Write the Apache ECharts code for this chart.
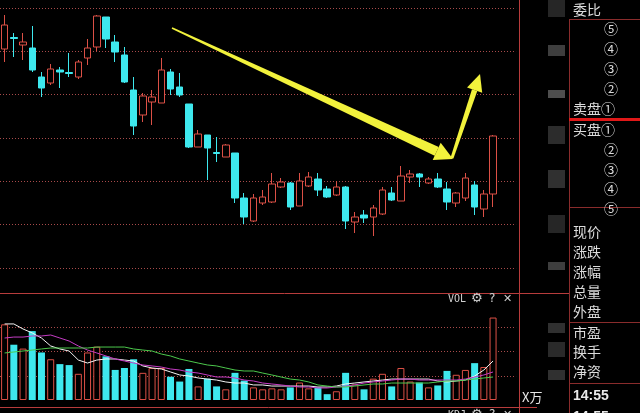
<!DOCTYPE html>
<html><head><meta charset="utf-8">
<script src="https://cdn.jsdelivr.net/npm/echarts@6/dist/echarts.min.js"></script>
<style>html,body{margin:0;padding:0;background:#000;}#c{width:640px;height:413px;}</style>
</head><body><div id="c"></div><script>
const categories = ['1','2','3','4','5','6','7','8','9','10','11','12','13','14','15','16','17','18','19','20','21','22','23','24','25','26','27','28','29','30','31','32','33','34','35','36','37','38','39','40','41','42','43','44','45','46','47','48','49','50','51','52','53','54','55','56'];
const opens = [9.114,9.183,9.138,9.120,8.946,8.910,8.988,8.973,8.946,9.060,
  9.126,9.306,9.156,9.078,8.868,8.718,8.796,8.790,8.976,8.886,
  8.784,8.526,8.598,8.493,8.466,8.490,8.220,8.082,8.190,8.196,
  8.286,8.310,8.172,8.292,8.334,8.274,8.238,8.286,8.076,8.118,
  8.106,8.124,8.250,8.202,8.346,8.364,8.310,8.334,8.274,8.190,
  8.220,8.298,8.154,8.244];
const closes = [9.258,9.177,9.156,8.988,8.880,8.994,8.976,8.967,9.036,9.120,
  9.312,9.174,9.096,8.916,8.652,8.832,8.826,8.988,8.874,8.838,
  8.526,8.604,8.520,8.487,8.538,8.220,8.106,8.220,8.226,8.304,
  8.316,8.166,8.322,8.346,8.268,8.226,8.286,8.082,8.106,8.100,
  8.160,8.268,8.208,8.352,8.364,8.346,8.334,8.286,8.196,8.250,
  8.340,8.166,8.244,8.592];
const lows = [9.036,9.066,9.048,8.976,8.826,8.898,8.880,8.946,8.934,9.018,
  9.102,9.120,9.036,8.910,8.598,8.676,8.658,8.790,8.838,8.826,
  8.520,8.526,8.328,8.436,8.466,8.190,8.064,8.076,8.178,8.190,
  8.280,8.148,8.172,8.286,8.232,8.220,8.232,8.034,8.010,8.070,
  7.992,8.118,8.202,8.202,8.310,8.286,8.304,8.280,8.148,8.166,
  8.202,8.118,8.106,8.166];
const highs = [9.318,9.210,9.210,9.252,8.976,9.024,9.006,9.090,9.048,9.174,
  9.318,9.306,9.198,9.126,8.946,8.850,8.868,9.060,8.994,8.970,
  8.784,8.628,8.598,8.586,8.544,8.490,8.250,8.244,8.268,8.370,
  8.340,8.316,8.370,8.376,8.370,8.292,8.322,8.292,8.136,8.148,
  8.178,8.286,8.286,8.412,8.388,8.370,8.346,8.370,8.316,8.256,
  8.370,8.322,8.268,8.598];
const volumes = [78,57,53,71,49,42,37,36,27,49,
  55,45,31,33,42,28,33,33,24,19,
  32,14,22,14,11,28,20,13,11,12,
  11,13,18,12,13,6,9,28,16,11,
  22,27,14,33,19,18,13,15,30,26,
  31,38,34,85];
const ma5 = [78.4,78.4,73.2,69.1,63.9,55.7,52.6,50.5,41.2,38.1,
  41.2,42.3,42.3,41.2,40.2,35.1,33.0,32.0,28.9,25.8,
  24.7,22.7,21.6,20.6,18.6,17.5,17.5,15.5,15.5,14.4,
  14.4,14.4,14.4,14.4,13.4,13.4,14.4,16.5,17.5,18.6,
  19.6,20.6,21.6,21.6,21.6,21.6,21.6,19.6,18.6,19.6,
  20.6,24.7,30.9,40.2];
const ma10 = [63.9,64.9,64.9,66.0,66.0,67.0,63.9,60.8,55.7,51.5,
  48.5,45.4,42.3,40.2,38.1,36.1,35.1,34.0,32.0,30.9,
  28.9,27.8,25.8,23.7,23.7,22.7,20.6,19.6,17.5,16.5,
  15.5,14.4,13.4,13.4,12.4,12.4,13.4,14.4,15.5,17.5,
  18.6,19.6,20.6,21.6,21.6,20.6,20.6,20.6,20.6,20.6,
  21.6,23.7,25.8,28.9];
const ma20 = [48.5,49.5,50.5,51.5,52.6,53.6,53.6,53.6,53.6,53.6,
  54.6,54.6,54.6,54.6,52.6,51.5,50.5,47.4,45.4,42.3,
  40.2,38.1,36.1,35.1,33.0,30.9,29.9,29.9,27.8,25.8,
  23.7,21.6,20.6,18.6,15.5,14.4,13.4,13.4,14.4,15.5,
  16.5,16.5,17.5,17.5,17.5,17.5,17.5,18.6,19.6,19.6,
  20.6,21.6,22.7,23.7];
const panelLabels = [
  ['委比',573,10],['⑤',604,29],['④',604,49],['③',604,69],['②',604,89],
  ['卖盘①',573,109],['买盘①',573,130],['②',604,150],['③',604,170],['④',604,189],['⑤',604,209],
  ['现价',573,232],['涨跌',573,252],['涨幅',573,272],['总量',573,292],['外盘',573,312],
  ['市盈',573,333],['换手',573,352],['净资',573,372]
];

const RED = '#dc5046', CYAN = '#3ee8ee', DOT = '#a84a4a', FRAME = '#b83c3c', YEL = '#f2f23c';

const chart = echarts.init(document.getElementById('c'), null, {renderer:'canvas'});

const candleData = opens.map((o,i)=>[o, closes[i], lows[i], highs[i]]);
const volData = volumes.map((v,i)=>{
  const up = closes[i] >= opens[i];
  return {value:v, itemStyle: up ? {color:'#000', borderColor:RED, borderWidth:1} : {color:CYAN, borderColor:CYAN, borderWidth:0}};
});

function arrow(sx,sy,tx,ty,w0,w1,hl,hh){
  const L = Math.hypot(tx-sx, ty-sy), dx=(tx-sx)/L, dy=(ty-sy)/L, nx=-dy, ny=dx;
  const bx = tx-dx*hl, by = ty-dy*hl;
  return [
    {type:'polygon', z:100, shape:{points:[[sx+nx*w0,sy+ny*w0],[bx+nx*w1,by+ny*w1],[bx-nx*w1,by-ny*w1],[sx-nx*w0,sy-ny*w0]]}, style:{fill:YEL}},
    {type:'polygon', z:100, shape:{points:[[tx,ty],[bx+nx*hh,by+ny*hh],[bx-nx*hh,by-ny*hh]]}, style:{fill:YEL}}
  ];
}
function hline(x1,x2,y,c,w){return {type:'line',z:50,shape:{x1:x1,y1:y,x2:x2,y2:y},style:{stroke:c,lineWidth:w||1}};}
function vline(x,y1,y2,c,w){return {type:'line',z:50,shape:{x1:x,y1:y1,x2:x,y2:y2},style:{stroke:c,lineWidth:w||1}};}
function txt(t,x,y,font,fill){return {type:'text',z:60,style:{text:t,x:x,y:y,font:font,fill:fill||'#dcdcdc',textAlign:'left',textVerticalAlign:'middle',align:'left',verticalAlign:'middle'}};}

const graphics = [];
// censor blocks (blurred placeholders)
[[0,17,'#262626'],[45,56,'#3e3e3e'],[90,98,'#4e4e4e'],[126,144,'#2c2c2c'],[170,188,'#303030'],[215,233,'#262626'],[262,270,'#3e3e3e'],[323,333,'#303030'],[342,357,'#2a2a2a'],[370,380,'#303030']].forEach(b=>{
  graphics.push({type:'rect',z:40,shape:{x:548,y:b[0],width:17,height:b[1]-b[0]},style:{fill:b[2]}});
});
graphics.push(hline(0,569,293.5,FRAME));
graphics.push(hline(0,537,407.5,FRAME));
graphics.push(vline(519.5,0,413,FRAME));
graphics.push(vline(569.5,19,413,'#8a2c2c'));
graphics.push(hline(569,640,19.5,'#8a2c2c'));
graphics.push(hline(569,640,207.5,'#8a2c2c'));
graphics.push(hline(569,640,322.5,'#8a2c2c'));
graphics.push(hline(569,640,383.5,'#8a2c2c'));
graphics.push(hline(569,640,119.5,'#e01818',3));
panelLabels.forEach(p=>graphics.push(txt(p[0],p[1],p[2],'14px "Noto Sans CJK SC"')));
graphics.push(txt('14:55',573,396,'bold 14px "Liberation Sans"','#e8e8e8'));
graphics.push(txt('14:55',573,417,'bold 14px "Liberation Sans"','#e8e8e8'));
graphics.push(txt('X万',522,397,'13px "Noto Sans CJK SC"','#e8e8e8'));
graphics.push(txt('VOL',448,299,'10px "DejaVu Sans Mono"','#d0d0d0'));
graphics.push(txt('⚙',471,299,'13px "DejaVu Sans"','#d0d0d0'));
graphics.push(txt('?',489,299,'12px "DejaVu Sans"','#d0d0d0'));
graphics.push(txt('✕',503,299,'11px "DejaVu Sans"','#d0d0d0'));
graphics.push(txt('KDJ',448,415,'10px "DejaVu Sans Mono"','#d0d0d0'));
graphics.push(txt('⚙',471,415,'13px "DejaVu Sans"','#d0d0d0'));
graphics.push(txt('?',489,415,'12px "DejaVu Sans"','#d0d0d0'));
graphics.push(txt('✕',503,415,'11px "DejaVu Sans"','#d0d0d0'));
arrow(172,28,453,159,0.8,4.8,18,9.5).forEach(g=>graphics.push(g));
arrow(452,158,480,74,1.5,2.8,17,8).forEach(g=>graphics.push(g));

const hiddenX = (gi)=>({type:'category', gridIndex:gi, data:categories, boundaryGap:true,
  axisLine:{show:false}, axisTick:{show:false}, axisLabel:{show:false}, splitLine:{show:false}});

chart.setOption({
  backgroundColor:'#000',
  animation:false,
  grid:[
    {left:-3.6, right:123.9, top:8, height:260},
    {left:-3.6, right:123.9, top:303, height:97}
  ],
  xAxis:[hiddenX(0), hiddenX(1)],
  yAxis:[
    {type:'value', gridIndex:0, min:7.80, max:9.36, interval:0.26,
     axisLine:{show:false}, axisTick:{show:false}, axisLabel:{show:false},
     splitLine:{show:true, lineStyle:{color:DOT, type:[1,2], width:1}}},
    {type:'value', gridIndex:1, min:0, max:100, interval:25,
     axisLine:{show:false}, axisTick:{show:false}, axisLabel:{show:false},
     splitLine:{show:true, lineStyle:{color:['rgba(0,0,0,0)',DOT,DOT,DOT,'rgba(0,0,0,0)'], type:[1,2], width:1}}}
  ],
  series:[
    {type:'candlestick', xAxisIndex:0, yAxisIndex:0, data:candleData, barWidth:7,
     itemStyle:{color:'#000', color0:CYAN, borderColor:RED, borderColor0:CYAN, borderWidth:1}},
    {type:'bar', xAxisIndex:1, yAxisIndex:1, data:volData, barWidth:7},
    {type:'line', xAxisIndex:1, yAxisIndex:1, data:ma5, symbol:'none', z:5, lineStyle:{color:'#f4f4f4', width:1}},
    {type:'line', xAxisIndex:1, yAxisIndex:1, data:ma10, symbol:'none', z:5, lineStyle:{color:'#c43cc4', width:1}},
    {type:'line', xAxisIndex:1, yAxisIndex:1, data:ma20, symbol:'none', z:5, lineStyle:{color:'#4cc84c', width:1}}
  ],
  graphic:graphics
});
</script></body></html>
